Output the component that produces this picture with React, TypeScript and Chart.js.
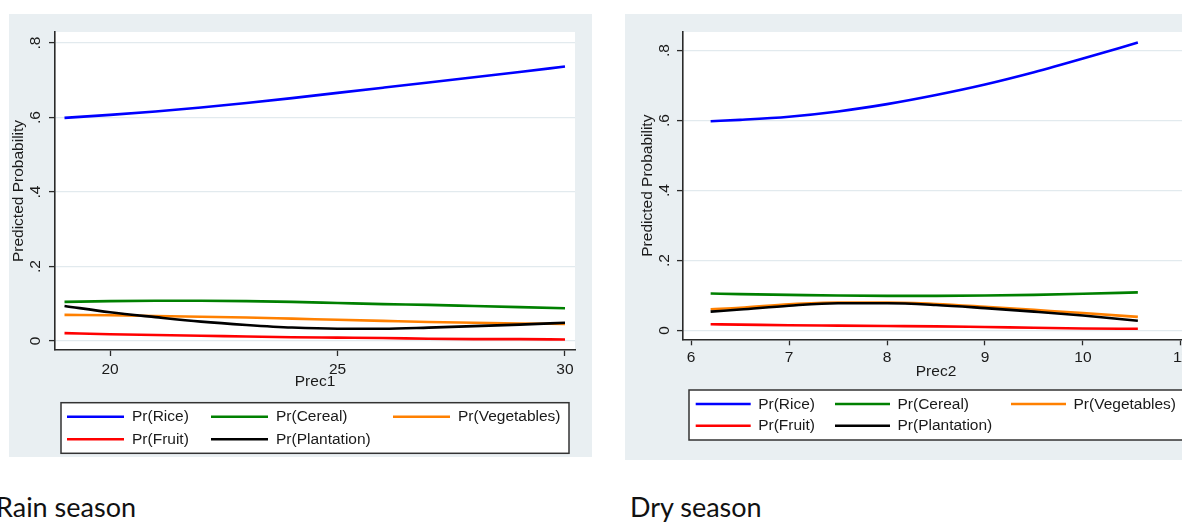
import React, { useEffect, useRef } from 'react';
import { Chart, registerables } from 'chart.js';

Chart.register(...registerables);

// Outcome categories, shared by both panels
const seriesNames = ['Pr(Rice)', 'Pr(Cereal)', 'Pr(Vegetables)', 'Pr(Fruit)', 'Pr(Plantation)'];
const seriesColors = ['#0000ff', '#008000', '#ff8000', '#ff0000', '#000000'];

// Rain season: predicted probabilities over Prec1
const prec1 = [19, 20, 21, 22, 23, 24, 25, 26, 27, 28, 29, 30];
const rainRice = [0.599, 0.607, 0.616, 0.627, 0.639, 0.652, 0.666, 0.68, 0.694, 0.708, 0.722, 0.737];
const rainCereal = [0.105, 0.107, 0.108, 0.108, 0.107, 0.105, 0.102, 0.099, 0.097, 0.094, 0.091, 0.088];
const rainVegetables = [0.07, 0.069, 0.067, 0.065, 0.063, 0.06, 0.057, 0.054, 0.051, 0.049, 0.047, 0.046];
const rainFruit = [0.021, 0.018, 0.016, 0.014, 0.012, 0.01, 0.009, 0.008, 0.006, 0.005, 0.005, 0.004];
const rainPlantation = [0.094, 0.077, 0.064, 0.052, 0.043, 0.036, 0.033, 0.033, 0.036, 0.04, 0.044, 0.049];

// Dry season: predicted probabilities over Prec2
const prec2 = [6.2, 6.5, 7, 7.5, 8, 8.5, 9, 9.5, 10, 10.56];
const dryRice = [0.598, 0.602, 0.611, 0.626, 0.647, 0.673, 0.703, 0.738, 0.777, 0.823];
const dryCereal = [0.106, 0.104, 0.102, 0.1, 0.099, 0.099, 0.1, 0.102, 0.105, 0.109];
const dryVegetables = [0.061, 0.065, 0.075, 0.08, 0.08, 0.076, 0.068, 0.059, 0.05, 0.039];
const dryFruit = [0.018, 0.017, 0.015, 0.014, 0.013, 0.012, 0.01, 0.008, 0.006, 0.005];
const dryPlantation = [0.054, 0.06, 0.071, 0.078, 0.078, 0.073, 0.064, 0.054, 0.043, 0.028];

// Axis ticks
const yTickValues = [0, 0.2, 0.4, 0.6, 0.8];
const yTickLabels = ['0', '.2', '.4', '.6', '.8'];
const prec1TickValues = [20, 25, 30];
const prec1TickLabels = ['20', '25', '30'];
const prec2TickValues = [6, 7, 8, 9, 10, 11];
const prec2TickLabels = ['6', '7', '8', '9', '10', '11'];

const FONT_FAMILY = 'Arial, "Liberation Sans", Helvetica, sans-serif';
const FONT_SIZE = 15.5;
const TEXT_COLOR = '#1a1a1a';
const AXIS_COLOR = '#2a2a2a';
const GRID_COLOR = '#e2eaee';
const REGION_COLOR = '#e9eff2';

type LegendLayout = {
  box: [number, number, number, number];
  columns: number[];
  rows: number[];
  lineLength: number;
  gap: number;
};

type Panel = {
  width: number;
  height: number;
  xs: number[];
  series: number[][];
  xMin: number;
  xMax: number;
  yMin: number;
  yMax: number;
  xTickValues: number[];
  xTickLabels: string[];
  xTitle: string;
  padTop: number;
  padRight: number;
  yAxisWidth: number;
  xAxisHeight: number;
  xTickPad: number;
  xTitlePad: number;
  yTickPad: number;
  yTitlePad: number;
  legend: LegendLayout;
};

// Paints the graph region, the white plot region and the boxed two-row key
const stataFrame = {
  id: 'stataFrame',
  beforeDraw(chart: any, _args: any, opts: any) {
    const { ctx, chartArea: a, width, height } = chart;
    ctx.save();
    ctx.fillStyle = opts.regionColor;
    ctx.fillRect(0, 0, width, height);
    ctx.fillStyle = '#ffffff';
    ctx.fillRect(a.left, a.top, a.right - a.left, a.bottom - a.top);
    ctx.restore();
  },
  afterDraw(chart: any, _args: any, opts: any) {
    const { ctx } = chart;
    const lg: LegendLayout = opts.legend;
    const [l, t, r, b] = lg.box;
    ctx.save();
    ctx.fillStyle = '#ffffff';
    ctx.fillRect(l, t, r - l, b - t);
    ctx.strokeStyle = '#333333';
    ctx.lineWidth = 1.5;
    ctx.strokeRect(l, t, r - l, b - t);
    ctx.font = `${FONT_SIZE}px ${FONT_FAMILY}`;
    ctx.textAlign = 'left';
    ctx.textBaseline = 'middle';
    chart.data.datasets.forEach((ds: any, i: number) => {
      const col = i % lg.columns.length;
      const row = Math.floor(i / lg.columns.length);
      const x = lg.columns[col];
      const y = lg.rows[row];
      ctx.strokeStyle = ds.borderColor;
      ctx.lineWidth = ds.borderWidth;
      ctx.beginPath();
      ctx.moveTo(x, y);
      ctx.lineTo(x + lg.lineLength, y);
      ctx.stroke();
      ctx.fillStyle = TEXT_COLOR;
      ctx.fillText(ds.label, x + lg.lineLength + lg.gap, y + 0.5);
    });
    ctx.restore();
  },
};

function buildConfig(p: Panel): any {
  const font = { family: FONT_FAMILY, size: FONT_SIZE };
  return {
    type: 'line',
    data: {
      datasets: p.series.map((vals, i) => ({
        label: seriesNames[i],
        data: p.xs.map((x, j) => ({ x, y: vals[j] })),
        borderColor: seriesColors[i],
        backgroundColor: seriesColors[i],
        borderWidth: 2.6,
        pointRadius: 0,
        fill: false,
        cubicInterpolationMode: 'monotone',
        order: seriesNames.length - 1 - i,
      })),
    },
    options: {
      responsive: false,
      animation: false,
      devicePixelRatio: 1,
      events: [],
      layout: { padding: { top: p.padTop, right: p.padRight, left: 0, bottom: 0 } },
      plugins: {
        legend: { display: false },
        tooltip: { enabled: false },
        stataFrame: { regionColor: REGION_COLOR, legend: p.legend },
      },
      scales: {
        x: {
          type: 'linear',
          min: p.xMin,
          max: p.xMax,
          afterBuildTicks: (s: any) => {
            s.ticks = p.xTickValues.map((v) => ({ value: v }));
          },
          afterFit: (s: any) => {
            s.height = p.xAxisHeight;
          },
          grid: {
            drawOnChartArea: false,
            drawTicks: true,
            tickLength: 6,
            tickColor: AXIS_COLOR,
            tickWidth: 1.3,
          },
          border: { display: true, color: AXIS_COLOR, width: 1.6 },
          ticks: {
            padding: p.xTickPad,
            color: TEXT_COLOR,
            font,
            maxRotation: 0,
            autoSkip: false,
            callback: (_v: any, i: number) => p.xTickLabels[i],
          },
          title: {
            display: true,
            text: p.xTitle,
            color: TEXT_COLOR,
            font,
            padding: { top: 0, bottom: p.xTitlePad },
          },
        },
        y: {
          type: 'linear',
          min: p.yMin,
          max: p.yMax,
          afterBuildTicks: (s: any) => {
            s.ticks = yTickValues.map((v) => ({ value: v }));
          },
          afterFit: (s: any) => {
            s.width = p.yAxisWidth;
          },
          grid: {
            color: GRID_COLOR,
            lineWidth: 1.2,
            drawTicks: true,
            tickLength: 6,
            tickColor: AXIS_COLOR,
            tickWidth: 1.3,
          },
          border: { display: true, color: AXIS_COLOR, width: 1.6 },
          ticks: {
            padding: p.yTickPad,
            color: TEXT_COLOR,
            font,
            minRotation: 90,
            maxRotation: 90,
            crossAlign: 'center',
            autoSkip: false,
            callback: (_v: any, i: number) => yTickLabels[i],
          },
          title: {
            display: true,
            text: 'Predicted Probability',
            color: TEXT_COLOR,
            font,
            padding: { top: p.yTitlePad, bottom: 0 },
          },
        },
      },
    },
    plugins: [stataFrame],
  };
}

const rainPanel: Panel = {
  width: 583,
  height: 443,
  xs: prec1,
  series: [rainRice, rainCereal, rainVegetables, rainFruit, rainPlantation],
  xMin: 18.791,
  xMax: 30.22,
  yMin: -0.0242,
  yMax: 0.8295,
  xTickValues: prec1TickValues,
  xTickLabels: prec1TickLabels,
  xTitle: 'Prec1',
  padTop: 18,
  padRight: 17,
  yAxisWidth: 46,
  xAxisHeight: 107,
  xTickPad: 4.7,
  xTitlePad: 65.7,
  yTickPad: 6.5,
  yTitlePad: 0,
  legend: {
    box: [52, 388.7, 560, 439.3],
    columns: [58, 202, 384],
    rows: [402.7, 425.3],
    lineLength: 57,
    gap: 8,
  },
};

const dryPanel: Panel = {
  width: 583,
  height: 446,
  xs: prec2,
  series: [dryRice, dryCereal, dryVegetables, dryFruit, dryPlantation],
  xMin: 5.918,
  xMax: 11.082,
  yMin: -0.025,
  yMax: 0.853,
  xTickValues: prec2TickValues,
  xTickLabels: prec2TickLabels,
  xTitle: 'Prec2',
  padTop: 18,
  padRight: 19,
  yAxisWidth: 58,
  xAxisHeight: 120.7,
  xTickPad: 3.4,
  xTitlePad: 78.7,
  yTickPad: 5.5,
  yTitlePad: 13.7,
  legend: {
    box: [64, 376, 561, 426],
    columns: [70.7, 210, 386],
    rows: [390, 411.7],
    lineLength: 55,
    gap: 7.5,
  },
};

function PanelChart({ panel, left, top }: { panel: Panel; left: number; top: number }) {
  const ref = useRef<HTMLCanvasElement | null>(null);
  useEffect(() => {
    if (!ref.current) return;
    const chart = new Chart(ref.current, buildConfig(panel));
    return () => chart.destroy();
  }, [panel]);
  return (
    <canvas
      ref={ref}
      width={panel.width}
      height={panel.height}
      style={{ position: 'absolute', left, top, width: panel.width, height: panel.height }}
    />
  );
}

const captionStyle: React.CSSProperties = {
  position: 'absolute',
  top: 493,
  fontFamily: 'Lato, "Open Sans", sans-serif',
  fontSize: 27,
  lineHeight: '27px',
  color: '#111',
  whiteSpace: 'nowrap',
};

export default function App() {
  return (
    <div
      style={{
        position: 'fixed',
        left: 0,
        top: 0,
        width: 1182,
        height: 522,
        overflow: 'hidden',
        background: '#ffffff',
      }}
    >
      <PanelChart panel={rainPanel} left={9} top={14} />
      <PanelChart panel={dryPanel} left={625} top={14} />
      <div style={{ ...captionStyle, left: -4 }}>Rain season</div>
      <div style={{ ...captionStyle, left: 630 }}>Dry season</div>
    </div>
  );
}
